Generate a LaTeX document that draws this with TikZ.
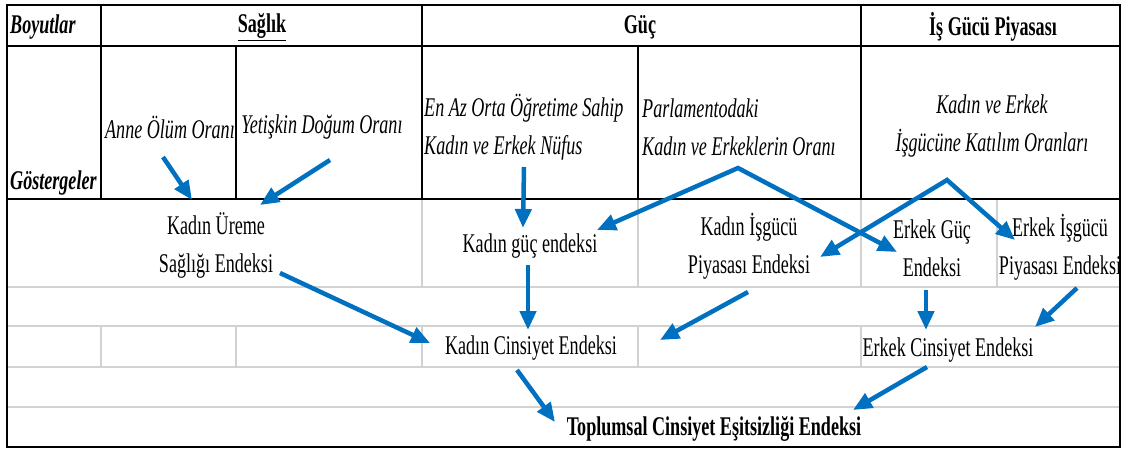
\documentclass[tikz,border=0pt]{standalone}
\usepackage{graphicx}
\usepackage{fontspec}
\setmainfont{Liberation Serif}
\usetikzlibrary{arrows.meta,calc}
\definecolor{arrblue}{RGB}{0,112,192}
\definecolor{gridgrey}{RGB}{210,210,210}
\newcommand{\nx}[1]{\scalebox{0.67}[1]{#1}}
\tikzset{
  lbl/.style={font=\fontsize{27}{38}\selectfont, inner sep=1pt, align=center},
  ilbl/.style={lbl, font=\fontsize{27}{38}\selectfont\itshape},
  blbl/.style={lbl, font=\fontsize{27}{38}\selectfont\bfseries},
  bilbl/.style={lbl, font=\fontsize{27}{38}\selectfont\bfseries\itshape},
  frame/.style={black, line width=2pt},
  faint/.style={gridgrey, line width=1.3pt},
  arr/.style={arrblue, line width=4.5pt, -{Triangle[length=19pt,width=16pt]}},
  twoarr/.style={arrblue, line width=4.5pt, line join=miter,
    {Triangle[length=19pt,width=16pt]}-{Triangle[length=19pt,width=16pt]}},
}
\begin{document}
\begin{tikzpicture}[x=1pt,y=-1pt]
\useasboundingbox[fill=white] (0,0) rectangle (1128,451);
% grey rows of the lower part
\foreach \y in {287,326,367,407}
  \draw[faint] (7,\y) -- (1120,\y);
\foreach \x in {422,638,861,997}
  \draw[faint] (\x,199) -- (\x,287);
\foreach \x in {101,236,422,638,861}
  \draw[faint] (\x,326) -- (\x,367);
% table
\draw[frame] (7,5) rectangle (1120,447);
\draw[frame] (7,46) -- (1120,46);
\draw[frame] (7,199) -- (1120,199);
\foreach \x in {101,422,861}
  \draw[frame] (\x,5) -- (\x,199);
\foreach \x in {236,638}
  \draw[frame] (\x,46) -- (\x,199);
% headers
\node[bilbl, anchor=west] (boy) at (9,27) {\nx{Boyutlar}};
\node[blbl] (sag) at (262,27) {\nx{\underline{Sağlık}}};
\node[blbl] (guc) at (640,27) {\nx{Güç}};
\node[blbl] (isg) at (993,27) {\nx{İş Gücü Piyasası}};
\node[bilbl, anchor=west] (gos) at (9,183) {\nx{Göstergeler}};
% indicators
\node[ilbl] (anne) at (170,127) {\nx{Anne Ölüm Oranı}};
\node[ilbl] (yet) at (322,127) {\nx{Yetişkin Doğum Oranı}};
\node[ilbl, anchor=west, align=left] (enaz) at (423,127)
  {\nx{En Az Orta Öğretime Sahip}\\\nx{Kadın ve Erkek Nüfus}};
\node[ilbl, anchor=west, align=left] (parl) at (641,127)
  {\nx{Parlamentodaki}\\\nx{Kadın ve Erkeklerin Oranı}};
\node[ilbl] (kve) at (992,126) {\nx{Kadın ve Erkek}\\\nx{İşgücüne Katılım Oranları}};
% indices
\node[lbl] (ureme) at (216,245) {\nx{Kadın Üreme}\\\nx{Sağlığı Endeksi}};
\node[lbl] (kguc) at (530,246) {\nx{Kadın güç endeksi}};
\node[lbl] (kisg) at (749,246) {\nx{Kadın İşgücü}\\\nx{Piyasası Endeksi}};
\node[lbl] (eguc) at (932,248) {\nx{Erkek Güç}\\\nx{Endeksi}};
\node[lbl] (eisg) at (1060,247) {\nx{Erkek İşgücü}\\\nx{Piyasası Endeksi}};
\node[lbl] (kcins) at (531,348) {\nx{Kadın Cinsiyet Endeksi}};
\node[lbl] (ecins) at (948,350) {\nx{Erkek Cinsiyet Endeksi}};
\node[blbl] (top) at (714,429) {\nx{Toplumsal Cinsiyet Eşitsizliği Endeksi}};
% arrows
\coordinate (parlTop) at ($(parl.west)+(97,41)$);
\coordinate (isgTop) at ($(kve)+(-45,54)$);
\draw[arr] ($(anne)+(-7,30)$) -- ($(ureme)+(-24,-45)$);
\draw[arr] ($(yet)+(8,33)$) -- ($(ureme)+(44,-40)$);
\draw[arr] ($(ureme)+(64,28)$) -- ($(kcins)+(-101,-5)$);
\draw[arr] ($(enaz.west)+(101,40)$) -- ($(kguc)+(-7,-18)$);
\draw[arr] ($(kguc)+(-2,19)$) -- ($(kcins)+(-3,-18)$);
\draw[twoarr] ($(kguc)+(67,-16)$) -- (parlTop) -- ($(eguc)+(-35,4)$);
\draw[twoarr] ($(kisg)+(71,11)$) -- (isgTop) -- ($(eisg)+(-45,-7)$);
\draw[arr] ($(kisg)+(-1,46)$) -- ($(kcins)+(129,-8)$);
\draw[arr] ($(eguc)+(-6,42)$) -- ($(ecins)+(-22,-20)$);
\draw[arr] ($(eisg)+(17,41)$) -- ($(ecins)+(87,-23)$);
\draw[arr] ($(kcins)+(-14,22)$) -- ($(top)+(-159,-7)$);
\draw[arr] ($(ecins)+(-21,17)$) -- ($(top)+(139,-19)$);
\end{tikzpicture}
\end{document}
